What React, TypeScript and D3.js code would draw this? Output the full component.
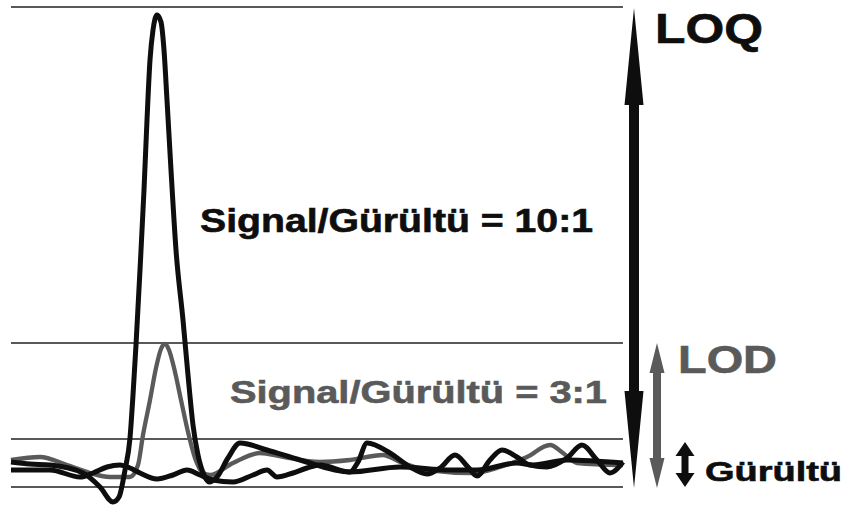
import React from "react";
import * as d3 from "d3";

const WIDTH = 847;
const HEIGHT = 507;

// Signal levels, expressed in units where the noise band is 48 high
const NOISE = 48;
const LOD_LEVEL = 3 * NOISE;
const LOQ_LEVEL = 10 * NOISE;
const referenceLevels = [0, NOISE, LOD_LEVEL, LOQ_LEVEL];

// Chromatogram with a peak at the limit of quantitation (S/N = 10:1)
const loqTrace: [number, number][] = [
  [0, 25], [19, 23], [39, 22], [72, 14], [89, 0], [102, -15], [108, -10],
  [114, 17], [119, 49], [122, 92], [125, 142], [129, 217], [133, 297],
  [136, 367], [139, 427], [142, 457], [146, 472], [150, 465], [153, 437],
  [156, 387], [160, 317], [165, 237], [172, 167], [177, 112], [182, 62],
  [187, 32], [193, 12], [198, 5], [206, 10], [217, 29], [229, 44], [256, 37],
  [289, 27], [339, 15], [347, 25], [356, 44], [379, 34], [399, 20], [416, 13],
  [429, 19], [444, 32], [457, 20], [466, 11], [479, 27], [491, 37], [506, 30],
  [519, 22], [536, 20], [556, 29], [571, 42], [586, 27], [599, 14], [612, 25],
];

// Chromatogram with a peak at the limit of detection (S/N = 3:1)
const lodTrace: [number, number][] = [
  [0, 27], [29, 30], [56, 22], [79, 14], [99, 10], [119, 10], [127, 22],
  [132, 52], [139, 87], [145, 119], [150, 138], [154, 143], [158, 137],
  [164, 115], [170, 87], [177, 55], [184, 29], [191, 15], [199, 12],
  [222, 24], [249, 34], [272, 30], [309, 25], [339, 27], [372, 32], [389, 25],
  [416, 17], [462, 14], [489, 20], [516, 30], [539, 42], [552, 34], [566, 24],
  [612, 22],
];

// Baseline noise without any analyte peak
const blankTrace: [number, number][] = [
  [0, 17], [39, 17], [69, 10], [82, 14], [96, 20], [109, 22], [119, 19],
  [129, 14], [146, 8], [162, 12], [176, 17], [189, 12], [202, 7], [222, 5],
  [242, 12], [256, 17], [266, 10], [282, 14], [296, 19], [309, 22], [339, 15],
  [389, 20], [439, 17], [466, 17], [506, 24], [522, 22], [556, 27], [612, 24],
];

const loqLabel = "Signal/Gürültü = 10:1";
const lodLabel = "Signal/Gürültü = 3:1";
const noiseLabel = "Gürültü";

const BLACK = "#0e0e0e";
const GREY = "#5a5a5a";
const FONT = "'Liberation Sans', Arial, Helvetica, sans-serif";

const x = d3.scaleLinear().domain([0, 612]).range([11, 623]);
const y = d3.scaleLinear().domain([0, LOQ_LEVEL]).range([487, 7]);

const line = d3
  .line<[number, number]>()
  .x((d) => x(d[0]))
  .y((d) => y(d[1]))
  .curve(d3.curveMonotoneX);

// Vertical double-headed arrow outline
function doubleArrow(
  cx: number,
  yTop: number,
  yBot: number,
  headLen: number,
  headW: number,
  shaftW: number
): string {
  const p = d3.path();
  p.moveTo(cx, yTop);
  p.lineTo(cx + headW / 2, yTop + headLen);
  p.lineTo(cx + shaftW / 2, yTop + headLen);
  p.lineTo(cx + shaftW / 2, yBot - headLen);
  p.lineTo(cx + headW / 2, yBot - headLen);
  p.lineTo(cx, yBot);
  p.lineTo(cx - headW / 2, yBot - headLen);
  p.lineTo(cx - shaftW / 2, yBot - headLen);
  p.lineTo(cx - shaftW / 2, yTop + headLen);
  p.lineTo(cx - headW / 2, yTop + headLen);
  p.closePath();
  return p.toString();
}

type LabelProps = {
  x: number;
  y: number;
  size: number;
  fill: string;
  length: number;
  children: string;
};

function Label({ x: lx, y: ly, size, fill, length, children }: LabelProps) {
  return (
    <text
      x={lx}
      y={ly}
      fontFamily={FONT}
      fontWeight="bold"
      fontSize={size}
      fill={fill}
      stroke={fill}
      strokeWidth={0.6}
      textLength={length}
      lengthAdjust="spacingAndGlyphs"
    >
      {children}
    </text>
  );
}

export default function App() {
  const [x0, x1] = x.range();
  return (
    <svg
      width={WIDTH}
      height={HEIGHT}
      viewBox={`0 0 ${WIDTH} ${HEIGHT}`}
      style={{ position: "absolute", left: 0, top: 0, background: "#fff" }}
    >
      <rect width={WIDTH} height={HEIGHT} fill="#fff" />

      {referenceLevels.map((lv) => (
        <line
          key={lv}
          x1={x0}
          x2={x1}
          y1={y(lv)}
          y2={y(lv)}
          stroke="#222"
          strokeWidth={1.4}
        />
      ))}

      <path d={line(lodTrace) ?? ""} fill="none" stroke={GREY} strokeWidth={4.3} strokeLinejoin="round" />
      <path d={line(blankTrace) ?? ""} fill="none" stroke={BLACK} strokeWidth={5} strokeLinejoin="round" />
      <path d={line(loqTrace) ?? ""} fill="none" stroke={BLACK} strokeWidth={5} strokeLinejoin="round" />

      {/* LOQ range arrow */}
      <path d={doubleArrow(634, y(LOQ_LEVEL) + 1, y(0) + 1, 97, 19, 10)} fill={BLACK} />
      {/* LOD range arrow */}
      <path d={doubleArrow(657, y(LOD_LEVEL), y(0) + 1, 30, 15, 8)} fill={GREY} />
      {/* Noise range arrow */}
      <path d={doubleArrow(685, y(NOISE) + 3, y(0), 14, 19, 7)} fill={BLACK} />

      <Label x={655} y={43} size={42} fill={BLACK} length={108}>LOQ</Label>
      <Label x={678} y={373} size={38} fill={GREY} length={99}>LOD</Label>
      <Label x={705} y={481} size={27} fill={BLACK} length={137}>{noiseLabel}</Label>
      <Label x={200} y={232} size={33} fill={BLACK} length={393}>{loqLabel}</Label>
      <Label x={230} y={403} size={32} fill={GREY} length={377}>{lodLabel}</Label>
    </svg>
  );
}
